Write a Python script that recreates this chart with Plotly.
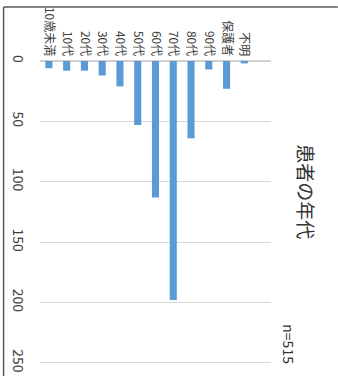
import plotly.graph_objects as go

categories = ["10歳未満", "10代", "20代", "30代", "40代", "50代", "60代", "70代", "80代", "90代", "保護者", "不明"]
counts = [6, 8, 8, 12, 21, 53, 113, 198, 64, 7, 23, 2]
tick_vals = [0, 50, 100, 150, 200, 250]
title_text = "患者の年代"
n_text = "n=515"

W, H = 338, 376
L, R, T, B = 39.5, 67, 61, 1.3
FONT = "Noto Sans CJK JP, Noto Sans, sans-serif"
pw = W - L - R
ph = H - T - B


def px(x):
    return (x - L) / pw


def py(y):
    return 1 - (y - T) / ph


fig = go.Figure(go.Bar(
    x=categories, y=counts,
    marker=dict(color="#5B9BD5", line=dict(width=0)),
    width=0.4,
))

fig.update_layout(
    width=W, height=H,
    margin=dict(l=L, r=R, t=T, b=B, pad=0),
    paper_bgcolor="white", plot_bgcolor="white",
    showlegend=False,
    font=dict(family=FONT, color="#404040"),
    xaxis=dict(
        side="top", tickangle=90, range=[-0.5, 12.5],
        tickfont=dict(size=12, color="#404040"),
        showgrid=False, showline=False, zeroline=False, ticks="",
        ticklabelstandoff=2,
    ),
    yaxis=dict(
        range=[260, 0], tickvals=tick_vals, tickangle=90,
        tickfont=dict(size=14, color="#404040"),
        showgrid=True, gridcolor="#d9d9d9", gridwidth=1,
        zeroline=True, zerolinecolor="#d0d0d0", zerolinewidth=2,
        showline=False, ticks="", ticklabelstandoff=12,
    ),
    annotations=[
        dict(text=title_text, textangle=90, x=px(307), y=py(192),
             xref="paper", yref="paper", showarrow=False,
             xanchor="center", yanchor="middle",
             font=dict(size=19, color="#333333")),
        dict(text=n_text, textangle=90, x=px(289), y=py(344),
             xref="paper", yref="paper", showarrow=False,
             xanchor="center", yanchor="middle",
             font=dict(size=14, color="#333333")),
    ],
    shapes=[
        dict(type="line", xref="paper", yref="paper", x0=px(3), x1=px(W), y0=py(7), y1=py(7),
             line=dict(color="#5a5a5a", width=1.5)),
        dict(type="line", xref="paper", yref="paper", x0=px(3), x1=px(3), y0=py(7), y1=py(H),
             line=dict(color="#5a5a5a", width=1.5)),
    ],
)

fig.write_html("out.html")
